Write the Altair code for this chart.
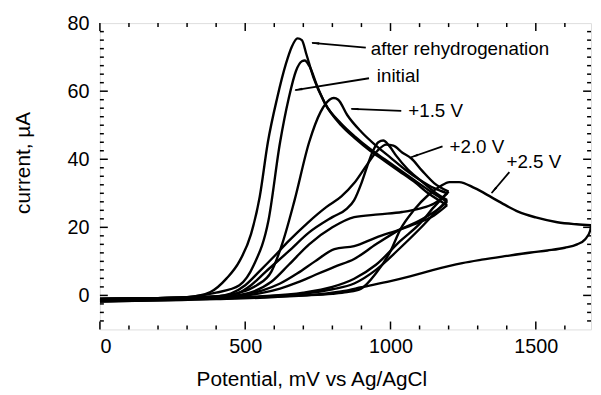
import math
import altair as alt
import pandas as pd

# ---------------- data ----------------
X_DOMAIN = [0, 1690]
Y_DOMAIN = [-10, 80]

x_tick_labels = [0, 500, 1000, 1500]
y_tick_labels = [0, 20, 40, 60, 80]

# each scan: forward sweep up to the turning potential, then the reverse sweep
# after rehydrogenation
A_x = [0, 150, 300, 380, 436, 480, 520, 550, 578, 610, 640, 660, 680, 695, 710, 735, 774, 830, 880, 930, 980, 1030, 1080, 1130, 1195,
       1150, 1100, 1034, 950, 875, 807, 740, 680, 620, 560, 500, 400, 250, 0]
A_y = [-1.0, -0.9, -0.5, 1.0, 5.0, 10, 18, 29, 45, 58, 68, 73, 75.5, 75, 71, 64, 56.5, 50, 46, 42.5, 39.5, 36.5, 33.5, 30, 26.5,
       23.5, 21.5, 19.4, 17, 14.5, 13.6, 10, 6.5, 3.5, 1.5, 0.3, -0.6, -1.1, -1.5]

# initial
B_x = [0, 150, 300, 400, 480, 530, 580, 620, 650, 675, 695, 705, 720, 750, 774, 830, 880, 930, 980, 1030, 1080, 1130, 1195,
       1150, 1100, 1034, 950, 875, 807, 740, 680, 620, 550, 450, 250, 0]
B_y = [-1.0, -0.9, -0.5, 0.8, 3.0, 9, 22, 45, 58, 66, 68.8, 69, 67.5, 61, 56.5, 50.5, 46.5, 43, 40, 37, 34, 31, 27.5,
       24.5, 22, 19.4, 15, 10.7, 8.4, 6, 3.8, 2, 0.6, -0.4, -1.1, -1.5]

# +1.5 V
C_x = [0, 200, 400, 480, 540, 590, 629, 670, 720, 760, 790, 805, 820, 851, 900, 950, 1000, 1050, 1100, 1150, 1195,
       1150, 1100, 1040, 960, 875, 800, 720, 650, 590, 530, 450, 250, 0]
C_y = [-1.0, -0.8, -0.3, 0.8, 3, 7, 15.6, 28, 45, 54, 57.5, 58, 57.5, 53, 48, 44, 40.5, 37, 34, 31.5, 30,
       27, 25.5, 24.5, 23.8, 23, 20, 15, 9, 4, 1.2, -0.2, -1.0, -1.5]

# +2.0 V
D_x = [0, 200, 400, 450, 500, 548, 600, 650, 716, 780, 830, 875, 920, 955, 985, 1010, 1040, 1071, 1110, 1150, 1200,
       1150, 1100, 1034, 950, 875, 800, 700, 550, 350, 0]
D_y = [-1.0, -0.8, -0.3, 0.5, 3, 7, 11.5, 16, 21.4, 26, 29, 33, 38.5, 42.5, 44.3, 44, 42, 40.3, 36.5, 33, 30.5,
       26, 21, 16, 9, 4.9, 2.5, 0.8, -0.3, -0.9, -1.5]

# intermediate scan (unlabelled)
E_x = [0, 200, 400, 470, 520, 571, 650, 720, 800, 850, 875, 900, 920, 940, 958, 975, 995, 1020, 1060, 1100, 1150, 1195,
       1150, 1100, 1034, 950, 875, 800, 700, 550, 350, 0]
E_y = [-1.0, -0.8, -0.3, 0.5, 3, 7, 13, 18.5, 23, 25.5, 28, 33, 38, 42.5, 45, 45.5, 44, 41, 37, 34, 30.5, 28,
       24, 19.5, 14, 7.5, 3.5, 1.8, 0.5, -0.4, -0.9, -1.5]

# +2.5 V
F_x = [0, 300, 550, 700, 800, 850, 899, 950, 1000, 1034, 1080, 1130, 1170, 1203, 1236, 1290, 1348, 1400, 1439, 1500, 1574, 1640, 1690,
       1687, 1670, 1642, 1600, 1540, 1483, 1400, 1314, 1247, 1200, 1145, 1111, 1067, 1000, 900, 841, 750, 600, 400, 0]
F_y = [-1.8, -1.2, -0.5, 0, 0.5, 1, 2, 6.5, 13, 19.4, 25, 29.5, 32, 33.3, 33.3, 31.5, 28.8, 26.3, 24.6, 22.9, 21.5, 20.9, 20.6,
       19.0, 16.5, 15, 14, 13.2, 12.6, 11.6, 10.5, 9.5, 8.6, 7.4, 6.6, 5.6, 4.2, 2.4, 1.3, 0.3, -0.5, -1.1, -1.8]

ann_text = ["after rehydrogenation", "initial", "+1.5 V", "+2.0 V", "+2.5 V"]
ann_x = [932, 953, 1061, 1203, 1399]
ann_y = [72.5, 64.3, 54.2, 43.5, 39.1]
arrow_tail_x = [915, 926, 1037, 1179, 1409]
arrow_tail_y = [72.8, 63.8, 54.2, 43.8, 36.2]
arrow_tip_x = [730, 672, 865, 1071, 1348]
arrow_tip_y = [74.2, 60.3, 54.8, 40.6, 30.1]

# ---------------- layout ----------------
W, H = 497, 310
FONT = "Liberation Sans"

curves = {
    "after rehydrogenation": (A_x, A_y),
    "initial": (B_x, B_y),
    "+1.5 V": (C_x, C_y),
    "+2.0 V": (D_x, D_y),
    "intermediate": (E_x, E_y),
    "+2.5 V": (F_x, F_y),
}
rows = []
for name, (xs_, ys_) in curves.items():
    turn = xs_.index(max(xs_))
    for branch, idx in (("fwd", range(0, turn + 1)), ("rev", range(turn, len(xs_)))):
        for i in idx:
            rows.append({"branch": f"{name}|{branch}", "x": xs_[i], "y": ys_[i]})
df = pd.DataFrame(rows)

xsc = alt.Scale(domain=X_DOMAIN, nice=False, zero=False)
ysc = alt.Scale(domain=Y_DOMAIN, nice=False, zero=False)

lines = alt.Chart(df).mark_line(
    color="black", strokeWidth=2.4, interpolate="monotone", clip=True
).encode(
    x=alt.X("x:Q", scale=xsc, axis=alt.Axis(
        values=x_tick_labels, format="d", title="Potential, mV vs Ag/AgCl", grid=False,
        domain=False, ticks=False, tickSize=0, labelPadding=7, labelFontSize=20,
        labelFont=FONT, labelColor="black", titleFont=FONT, titleFontSize=21,
        titleFontWeight="normal", titleColor="black", titleX=214, titleY=57,
        titleBaseline="alphabetic", titleAlign="center")),
    y=alt.Y("y:Q", scale=ysc, axis=alt.Axis(
        values=y_tick_labels, format="d", title="current, µA", grid=False,
        domain=False, ticks=False, tickSize=0, labelPadding=11, labelFontSize=20,
        labelFont=FONT, labelColor="black", titleFont=FONT, titleFontSize=21,
        titleFontWeight="normal", titleColor="black", titleX=-77, titleY=141,
        titleAngle=270, titleBaseline="middle", titleAlign="center")),
    detail="branch:N",
)

# inward tick marks on all four sides
x_major = x_tick_labels
x_minor = [v for v in range(100, 1700, 100) if v % 500 != 0]
y_major = [0, 20, 40, 60]
y_minor = [v / 2 for v in range(-15, 160, 5) if (v / 2) % 20 != 0]


def xticks(vals, length):
    d = pd.DataFrame({"x": vals})
    bot = alt.Chart(d).mark_rule(color="black", strokeWidth=1.5).encode(
        x=alt.X("x:Q", scale=xsc), y=alt.value(H), y2=alt.value(H - length))
    top = alt.Chart(d).mark_rule(color="black", strokeWidth=1.5).encode(
        x=alt.X("x:Q", scale=xsc), y=alt.value(0), y2=alt.value(length))
    return [bot, top]


def yticks(vals, length):
    d = pd.DataFrame({"y": vals})
    left = alt.Chart(d).mark_rule(color="black", strokeWidth=1.5).encode(
        y=alt.Y("y:Q", scale=ysc), x=alt.value(0), x2=alt.value(length))
    right = alt.Chart(d).mark_rule(color="black", strokeWidth=1.5).encode(
        y=alt.Y("y:Q", scale=ysc), x=alt.value(W), x2=alt.value(W - length))
    return [left, right]


tick_layers = xticks(x_major, 8) + xticks(x_minor, 4) + yticks(y_major, 8) + yticks(y_minor, 4)

# annotations
adf = pd.DataFrame({"t": ann_text, "x": ann_x, "y": ann_y})
texts = alt.Chart(adf).mark_text(
    align="left", baseline="middle", fontSize=19, font=FONT, color="black"
).encode(x=alt.X("x:Q", scale=xsc), y=alt.Y("y:Q", scale=ysc), text="t:N")

sx = W / (X_DOMAIN[1] - X_DOMAIN[0])
sy = H / (Y_DOMAIN[1] - Y_DOMAIN[0])
heads = []
for tx0, ty0, tx1, ty1 in zip(arrow_tail_x, arrow_tail_y, arrow_tip_x, arrow_tip_y):
    dxp = (tx1 - tx0) * sx
    dyp = -(ty1 - ty0) * sy
    L = math.hypot(dxp, dyp)
    ux, uy = dxp / L, dyp / L
    back = 4.5
    hx = tx1 - ux * back / sx
    hy = ty1 + uy * back / sy
    ang = math.degrees(math.atan2(ux, -uy)) % 360
    heads.append({"x": hx, "y": hy, "ang": ang})
hdf = pd.DataFrame(heads)

ardf = pd.DataFrame({"x": arrow_tail_x, "y": arrow_tail_y, "x2": arrow_tip_x, "y2": arrow_tip_y})
arrows = alt.Chart(ardf).mark_rule(color="black", strokeWidth=1.8).encode(
    x=alt.X("x:Q", scale=xsc), y=alt.Y("y:Q", scale=ysc), x2="x2:Q", y2="y2:Q")
arrowheads = alt.Chart(hdf).mark_point(
    shape="wedge", filled=True, color="black", size=90, opacity=1
).encode(x=alt.X("x:Q", scale=xsc), y=alt.Y("y:Q", scale=ysc),
         angle=alt.Angle("ang:Q", scale=None))

chart = alt.layer(lines, *tick_layers, arrows, arrowheads, texts).properties(
    width=W, height=H,
    autosize=alt.AutoSizeParams(type="none"),
    padding={"left": 93, "top": 13, "right": 2, "bottom": 60},
).configure_view(stroke="black", strokeWidth=2.5).configure(background="white")

chart.save("out.html", embed_options={"renderer": "svg", "actions": False})
